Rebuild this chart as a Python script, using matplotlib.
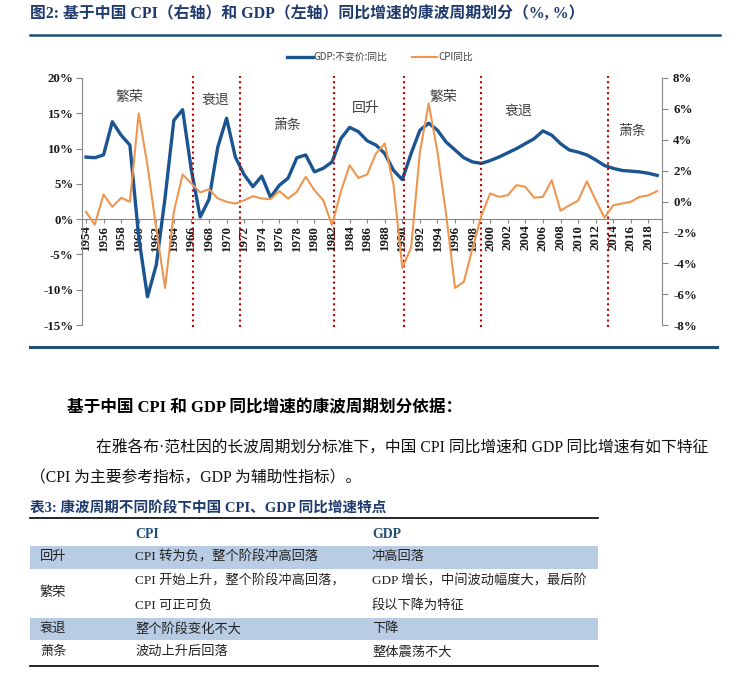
import numpy as np
import matplotlib
matplotlib.use("Agg")
import matplotlib.pyplot as plt
from matplotlib.patches import Rectangle
from matplotlib.ticker import FuncFormatter, MultipleLocator

# ---- data ----
years = list(range(1954, 2020))

gdp_yoy = [8.8, 8.7, 9.1, 13.8, 11.9, 10.5, -2.5, -11.0, -6.5, 3.0,
           14.0, 15.5, 6.9, 0.3, 2.8, 10.2, 14.3, 8.8, 6.3, 4.6,
           6.1, 3.1, 4.8, 5.8, 8.7, 9.1, 6.7, 7.2, 8.1, 11.4,
           13.0, 12.4, 11.1, 10.5, 9.3, 6.9, 5.6, 9.3, 12.6, 13.6,
           12.6, 10.9, 9.8, 8.7, 8.1, 7.9, 8.3, 8.8, 9.4, 10.0,
           10.7, 11.4, 12.5, 11.9, 10.7, 9.8, 9.5, 9.1, 8.4, 7.6,
           7.2, 6.9, 6.8, 6.7, 6.5, 6.2]

cpi_yoy = [-0.67, -1.5, 0.45, -0.35, 0.24, -0.02, 5.7, 2.35, -1.75, -5.6,
           -0.67, 1.75, 1.17, 0.58, 0.8, 0.2, -0.02, -0.13, 0.08, 0.34,
           0.19, 0.15, 0.67, 0.19, 0.63, 1.6, 0.73, 0.08, -1.53, 0.63,
           2.35, 1.53, 1.75, 3.1, 3.76, 1.06, -4.3, -3.0, 3.2, 6.35,
           3.2, -0.9, -5.6, -5.2, -3.0, -0.9, 0.52, 0.3, 0.41, 1.06,
           0.95, 0.24, 0.3, 1.38, -0.6, -0.25, 0.05, 1.3, 0.1, -1.05,
           -0.24, -0.13, -0.02, 0.3, 0.4, 0.67]

cycle_breaks = [1966.2, 1971.5, 1982.2, 1990.2, 1999.0, 2013.4]
phase_names = ['繁荣', '衰退', '萧条', '回升', '繁荣', '衰退', '萧条']
phase_pos = [(1959.0, 17.3), (1968.7, 16.9), (1976.9, 13.3), (1985.8, 15.7),
             (1994.7, 17.3), (2003.2, 15.4), (2016.2, 12.5)]

table_phase = ['回升', '繁荣', '衰退', '萧条']
table_cpi = ['CPI 转为负，整个阶段冲高回落',
             'CPI 开始上升，整个阶段冲高回落，\nCPI 可正可负',
             '整个阶段变化不大',
             '波动上升后回落']
table_gdp = ['冲高回落',
             'GDP 增长，中间波动幅度大，最后阶\n段以下降为特征',
             '下降',
             '整体震荡不大']

MIX = ['Liberation Serif', 'Noto Sans CJK SC']
CJK = ['Noto Sans CJK SC', 'DejaVu Sans']
DARK_BLUE = '#1F3B6E'
GDP_BLUE = '#1A5592'
CPI_ORANGE = '#EE9650'
GRID_GRAY = '#868686'

W, H = 741, 697
fig = plt.figure(figsize=(W / 100, H / 100), dpi=100)

# background axes in pixel coordinates for the page elements
bg = fig.add_axes([0, 0, 1, 1], zorder=0)
bg.set_xlim(0, W)
bg.set_ylim(H, 0)
bg.axis('off')

# ---- chart ----
ax = fig.add_axes([82 / W, 1 - 325 / H, 580 / W, 247 / H], zorder=2)
ax.patch.set_alpha(0)
ax2 = ax.twinx()

l1, = ax.plot(years, gdp_yoy, color=GDP_BLUE, lw=2.4, solid_joinstyle='round', zorder=3,
              label='GDP:不变价:同比')
l2, = ax2.plot(years, cpi_yoy, color=CPI_ORANGE, lw=1.5, solid_joinstyle='round', zorder=2,
               label='CPI同比')

ax.set_xlim(1953.55, 2019.55)
ax.set_ylim(-15, 20)
ax2.set_ylim(-8, 8)

for yr in cycle_breaks:
    ax.axvline(yr, ymin=-0.01, ymax=1.01, color='#C00000', ls=(0, (1, 1.6)), lw=1.5,
               clip_on=False, zorder=4)

for name, (px, py) in zip(phase_names, phase_pos):
    ax.text(px, py, name, ha='center', va='center', fontsize=10, color='#404040', family=CJK)

for a in (ax, ax2):
    a.spines['top'].set_visible(False)
ax.spines['right'].set_visible(False)
ax2.spines['left'].set_visible(False)
ax2.spines['bottom'].set_visible(False)
ax.spines['bottom'].set_position(('data', 0))
for s in ('left', 'bottom'):
    ax.spines[s].set_color(GRID_GRAY)
ax2.spines['right'].set_color(GRID_GRAY)

pct = FuncFormatter(lambda v, p: f'{v:.0f}%')
ax.yaxis.set_major_locator(MultipleLocator(5))
ax.yaxis.set_major_formatter(pct)
ax2.yaxis.set_major_locator(MultipleLocator(2))
ax2.yaxis.set_major_formatter(pct)

ax.set_xticks(years[::2])
ax.set_xticklabels([str(y) for y in years[::2]], rotation=90)
ax.tick_params(axis='x', length=3, color=GRID_GRAY, pad=1)
ax.tick_params(axis='y', length=4, color=GRID_GRAY, pad=2)
ax2.tick_params(axis='y', length=4, color=GRID_GRAY, pad=4)

for lab in ax.get_xticklabels() + ax.get_yticklabels() + ax2.get_yticklabels():
    lab.set_fontfamily('Liberation Serif')
    lab.set_fontweight('bold')
    lab.set_fontsize(9.3)
    lab.set_color('#1a1a1a')
for lab in ax.get_xticklabels():
    lab.set_fontsize(9.3)

leg = fig.legend(handles=[l1, l2], loc='center', bbox_to_anchor=(380 / W, 1 - 57 / H),
                 ncol=2, frameon=False, handlelength=2.6, columnspacing=2.5,
                 handletextpad=0.1, prop={'family': CJK, 'size': 7})
for t in leg.get_texts():
    t.set_color('#404040')

# ---- page texts ----
bg.text(30, 14, '图2: 基于中国 CPI（右轴）和 GDP（左轴）同比增速的康波周期划分（%, %）',
        ha='left', va='center', fontsize=11.4, weight='bold', color=DARK_BLUE, family=MIX)
bg.plot([30, 720], [35, 35], color='#1F4E79', lw=1.8)
bg.plot([30, 717], [347, 347], color='#1F4E79', lw=2.2)

bg.text(67, 408, '基于中国 CPI 和 GDP 同比增速的康波周期划分依据：', ha='left', va='center',
        fontsize=12, weight='bold', color='black', family=MIX)
bg.text(96, 449, '在雅各布·范杜因的长波周期划分标准下，中国 CPI 同比增速和 GDP 同比增速有如下特征',
        ha='left', va='center', fontsize=11.35, color='#111111', family=MIX)
bg.text(30, 478, '（CPI 为主要参考指标，GDP 为辅助性指标）。', ha='left', va='center',
        fontsize=11.35, color='#111111', family=MIX)

bg.text(30, 509, '表3: 康波周期不同阶段下中国 CPI、GDP 同比增速特点', ha='left', va='center',
        fontsize=10.5, weight='bold', color=DARK_BLUE, family=MIX)

# ---- table ----
tx0, tx1 = 30, 598
col_x = [40, 135, 372]
row_y = [557, 593, 629, 652]
band_rows = {0: (546, 569), 2: (618, 640)}
line_gap = 24

for i, (y0, y1) in band_rows.items():
    bg.add_patch(Rectangle((tx0, y0), tx1 - tx0, y1 - y0, color='#B8CCE4', lw=0, zorder=1))
bg.plot([tx0, tx1], [518, 518], color='black', lw=1.2, zorder=3)
bg.plot([tx0, tx1], [666, 666], color='black', lw=1.2, zorder=3)

bg.text(col_x[1], 535, 'CPI', ha='left', va='center', fontsize=10, weight='bold',
        color='#1F4E79', family=MIX)
bg.text(col_x[2], 535, 'GDP', ha='left', va='center', fontsize=10, weight='bold',
        color='#1F4E79', family=MIX)

for i, name in enumerate(table_phase):
    yc = row_y[i]
    bg.text(col_x[0], yc, name, ha='left', va='center', fontsize=9.5, color='#222222',
            family=MIX, zorder=4)
    for cx, cell in ((col_x[1], table_cpi[i]), (col_x[2], table_gdp[i])):
        parts = cell.split('\n')
        start = yc - (len(parts) - 1) * line_gap / 2
        for k, part in enumerate(parts):
            bg.text(cx, start + k * line_gap, part, ha='left', va='center', fontsize=9.5,
                    color='#222222', family=MIX, zorder=4)

fig.savefig('out.png', dpi=100)
